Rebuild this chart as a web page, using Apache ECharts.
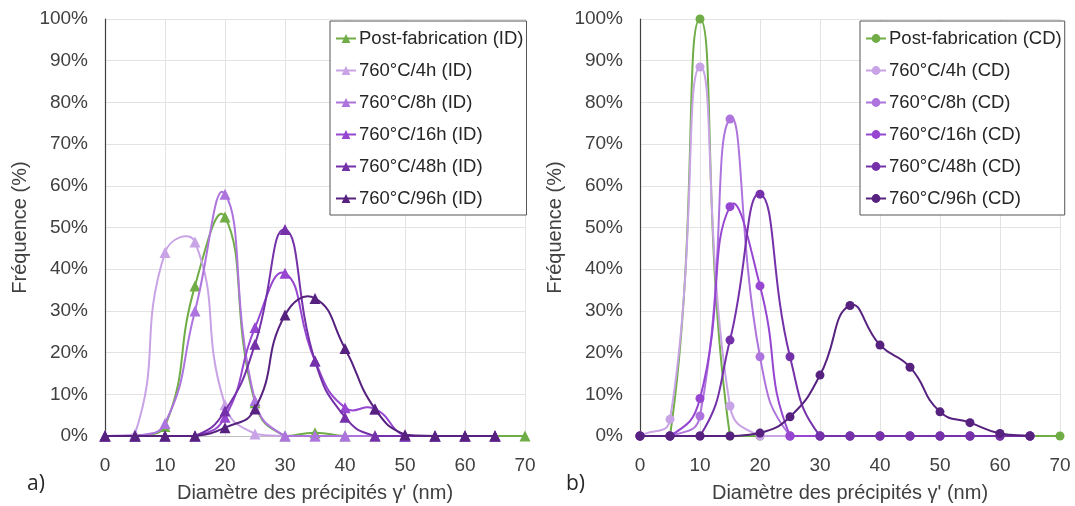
<!DOCTYPE html>
<html>
<head>
<meta charset="utf-8">
<script src="https://cdn.jsdelivr.net/npm/echarts@6/dist/echarts.min.js"></script>
<style>
html,body{margin:0;padding:0;background:#fff;}
#c{width:1075px;height:506px;}
</style>
</head>
<body>
<div id="c"></div>
<script>
// ---- data ----
const diameters = [0,5,10,15,20,25,30,35,40,45,50,55,60,65,70];
const yTicks = ['0%','10%','20%','30%','40%','50%','60%','70%','80%','90%','100%'];

const namesID = ['Post-fabrication (ID)','760°C/4h (ID)','760°C/8h (ID)','760°C/16h (ID)','760°C/48h (ID)','760°C/96h (ID)'];
const postID = [0,0,2.3,36,52.5,8,0,0.8,0,0,0,0,0,0,0];
const h4ID   = [0,0.5,44,46.5,7.5,0.5,0,0,0,0,0,0,0,0,null];
const h8ID   = [0,0,3,30,58,8.5,0,0,0,0,0,0,0,0,null];
const h16ID  = [0,0,0,0,4.5,26,39,18,6.8,6.5,0,0,0,0,null];
const h48ID  = [0,0,0,0,6,22,49.5,18,4.5,0,0,0,0,0,null];
const h96ID  = [0,0,0,0,2,6.5,29,33,21,6.5,0.3,0,0,0,null];

const namesCD = ['Post-fabrication (CD)','760°C/4h (CD)','760°C/8h (CD)','760°C/16h (CD)','760°C/48h (CD)','760°C/96h (CD)'];
const postCD = [0,0,100,0,0,0,0,0,0,0,0,0,0,0,0];
const h4CD   = [0,4,88.5,7.2,0,0,0,0,0,0,0,0,0,0,null];
const h8CD   = [0,0,4.8,76,19,0,0,0,0,0,0,0,0,0,null];
const h16CD  = [0,0,9,55,36,0,0,0,0,0,0,0,0,0,null];
const h48CD  = [0,0,0,23,58,19,0,0,0,0,0,0,0,0,null];
const h96CD  = [0,0,0,0,0.7,4.6,14.6,31.3,21.8,16.5,5.8,3.2,0.6,0,null];

const xTitle = "Diamètre des précipités γ' (nm)";
const yTitle = 'Fréquence (%)';

// ---- style ----
const colors = ['#70AD47','#C8A3E6','#AE74DD','#9646D0','#7431A9','#56217F'];
const FONT = '"Liberation Sans", Arial, sans-serif';
const TXT = '#404040';
const SMOOTH = 0.5;

function pairs(vals){ return vals.map((v,i)=> v===null ? null : [diameters[i], v]).filter(p=>p!==null); }

// Excel-like smoothed path (bezier, tangent from neighbours); control points kept above the baseline
function smoothPath(pts, baseY){
  const n = pts.length;
  const cpIn = [], cpOut = [];
  for (let i=0;i<n;i++){
    const p = pts[i], prev = pts[Math.max(i-1,0)], next = pts[Math.min(i+1,n-1)];
    const vx = next[0]-prev[0], vy = next[1]-prev[1];
    const dp = Math.hypot(p[0]-prev[0], p[1]-prev[1]);
    const dn = Math.hypot(next[0]-p[0], next[1]-p[1]);
    const r = (dp+dn) > 0 ? dn/(dp+dn) : 0.5;
    cpOut.push([p[0]+vx*SMOOTH*r, Math.min(baseY, p[1]+vy*SMOOTH*r)]);
    cpIn.push([p[0]-vx*SMOOTH*(1-r), Math.min(baseY, p[1]-vy*SMOOTH*(1-r))]);
  }
  let d = 'M' + pts[0][0] + ' ' + pts[0][1];
  for (let i=1;i<n;i++){
    d += ' C' + cpOut[i-1][0] + ' ' + cpOut[i-1][1] + ' ' + cpIn[i][0] + ' ' + cpIn[i][1] + ' ' + pts[i][0] + ' ' + pts[i][1];
  }
  return d;
}

const idSets = [postID,h4ID,h8ID,h16ID,h48ID,h96ID];
const cdSets = [postCD,h4CD,h8CD,h16CD,h48CD,h96CD];

const series = [];
function addSeries(sets, names, gi, symbol, size){
  sets.forEach((d,i)=>{
    const dataPts = pairs(d);
    series.push({
      type:'custom', xAxisIndex:gi, yAxisIndex:gi, silent:true, z: 2+2*i,
      data:[dataPts[0]],
      renderItem:(params, api)=>{
        const px = dataPts.map(p=>api.coord(p));
        const baseY = api.coord([0,0])[1];
        return {type:'path', shape:{pathData: smoothPath(px, baseY)},
                style:{stroke:colors[i], lineWidth:2, fill:null}};
      }
    });
    series.push({
      name: names[i], type:'line', xAxisIndex:gi, yAxisIndex:gi,
      data: dataPts, symbol:symbol, symbolSize:size,
      lineStyle:{width:2, color:colors[i], opacity:0}, itemStyle:{color:colors[i]}, z: 3+2*i
    });
  });
}
addSeries(idSets, namesID, 0, 'triangle', 11);
addSeries(cdSets, namesCD, 1, 'circle', 9);

function xAx(gi){
  return {
    type:'value', gridIndex:gi, min:0, max:70, interval:10,
    name: xTitle, nameLocation:'middle', nameGap:47,
    nameTextStyle:{fontFamily:FONT, fontSize:20, color:TXT},
    axisLine:{show:true, lineStyle:{color:'#bfbfbf'}},
    axisTick:{show:false},
    axisLabel:{fontFamily:FONT, fontSize:19, color:TXT, margin:20},
    splitLine:{show:true, lineStyle:{color:'#e3e3e3', width:1}}
  };
}
function yAx(gi){
  return {
    type:'value', gridIndex:gi, min:0, max:100, interval:10,
    name: yTitle, nameLocation:'middle', nameGap:75,
    nameTextStyle:{fontFamily:FONT, fontSize:20, color:TXT},
    axisLine:{show:true, lineStyle:{color:'#404040', width:1.2}},
    axisTick:{show:false},
    axisLabel:{fontFamily:FONT, fontSize:19, color:TXT, margin:17,
      formatter:(v)=> yTicks[Math.round(v/10)]},
    splitLine:{show:true, lineStyle:{color:'#e3e3e3', width:1}}
  };
}

function legend(names, left){
  return {
    data: names, orient:'vertical', left:left, top:21,
    itemGap:13, itemWidth:20, itemHeight:11,
    padding:[8,3,7,5],
    borderColor:'#555', borderWidth:1, backgroundColor:'#fff',
    lineStyle:{opacity:1, width:2},
    textStyle:{fontFamily:FONT, fontSize:18.5, color:'#262626', lineHeight:19, padding:[0,0,0,-2]},
    selectedMode:false
  };
}

const chart = echarts.init(document.getElementById('c'), null, {renderer:'canvas'});
chart.setOption({
  animation:false,
  backgroundColor:'#fff',
  grid:[
    {left:105, top:19, width:420, height:417, outerBoundsMode:'none', containLabel:false},
    {left:640, top:19, width:420, height:417, outerBoundsMode:'none', containLabel:false}
  ],
  xAxis:[xAx(0), xAx(1)],
  yAxis:[yAx(0), yAx(1)],
  legend:[legend(namesID, 330), legend(namesCD, 860)],
  graphic:[
    {type:'text', left:27, top:474, style:{text:'a)', fontFamily:'"Open Sans", sans-serif', fontSize:21, fill:'#262626'}},
    {type:'text', left:566, top:474, style:{text:'b)', fontFamily:'"Open Sans", sans-serif', fontSize:21, fill:'#262626'}}
  ],
  series: series
});
</script>
</body>
</html>
